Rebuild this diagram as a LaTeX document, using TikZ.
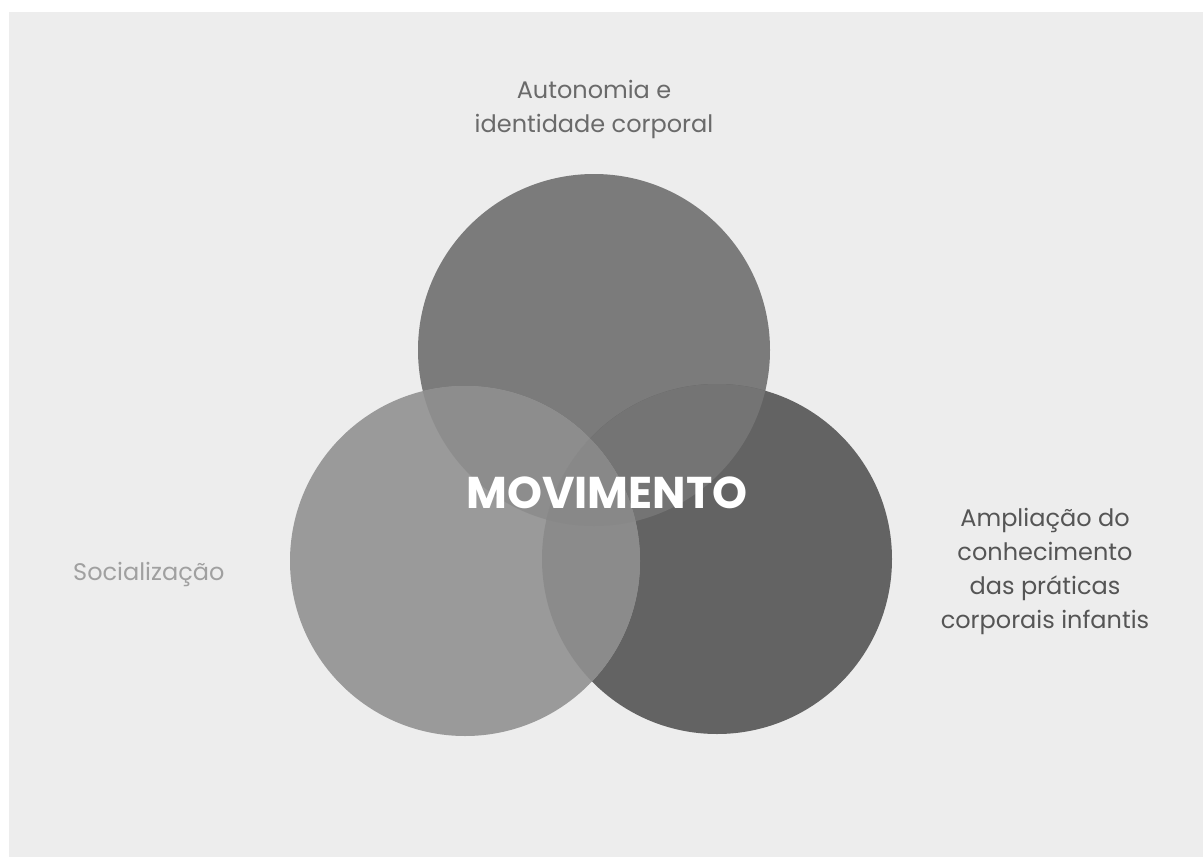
\documentclass[tikz,border=0pt]{standalone}
\usepackage{fontspec}
\setmainfont{Poppins}
\definecolor{bgc}{HTML}{EDEDED}
\definecolor{ctop}{HTML}{7B7B7B}
\definecolor{cleft}{HTML}{9A9A9A}
\definecolor{cright}{HTML}{636363}
\definecolor{clt}{HTML}{8D8D8D}
\definecolor{ctr}{HTML}{747474}
\definecolor{clr}{HTML}{8B8B8B}
\definecolor{clrt}{HTML}{888888}
\definecolor{txtdark}{HTML}{6A6A6A}
\definecolor{txtlight}{HTML}{A0A0A0}
\definecolor{txtright}{HTML}{555555}
\begin{document}
\begin{tikzpicture}[x=1pt,y=-1pt,
  lbl/.style={font=\fontsize{24}{34}\selectfont, align=center, inner sep=0pt},
  title/.style={font=\fontsize{44.5}{44.5}\selectfont\bfseries, text=white, inner sep=0pt}]
\useasboundingbox (0,0) rectangle (1203,857);
\fill[white] (0,0) rectangle (1203,857);
\fill[bgc] (9,12) rectangle (1203,857);
% circles
\def\Tc{(594,350) circle[radius=176]}
\def\Lc{(465,561) circle[radius=175]}
\def\Rc{(717,559) circle[radius=175]}
\fill[ctop] \Tc;
\fill[cright] \Rc;
\fill[cleft] \Lc;
\begin{scope}\clip \Tc; \fill[ctr] \Rc; \end{scope}
\begin{scope}\clip \Lc; \fill[clt] \Tc; \end{scope}
\begin{scope}\clip \Lc; \fill[clr] \Rc; \end{scope}
\begin{scope}\clip \Lc; \clip \Rc; \fill[clrt] \Tc; \end{scope}
% texts
\node[title, anchor=base] (mov) at (607,508) {MOVIMENTO};
\node[lbl, text=txtdark, anchor=base] (top) at (594,132) {Autonomia e\\identidade corporal};
\node[lbl, text=txtlight, anchor=base west] (soc) at (73,580) {Socialização};
\node[lbl, text=txtright, anchor=base] (right) at (1045,628) {Ampliação do\\conhecimento\\das práticas\\corporais infantis};
\end{tikzpicture}
\end{document}
